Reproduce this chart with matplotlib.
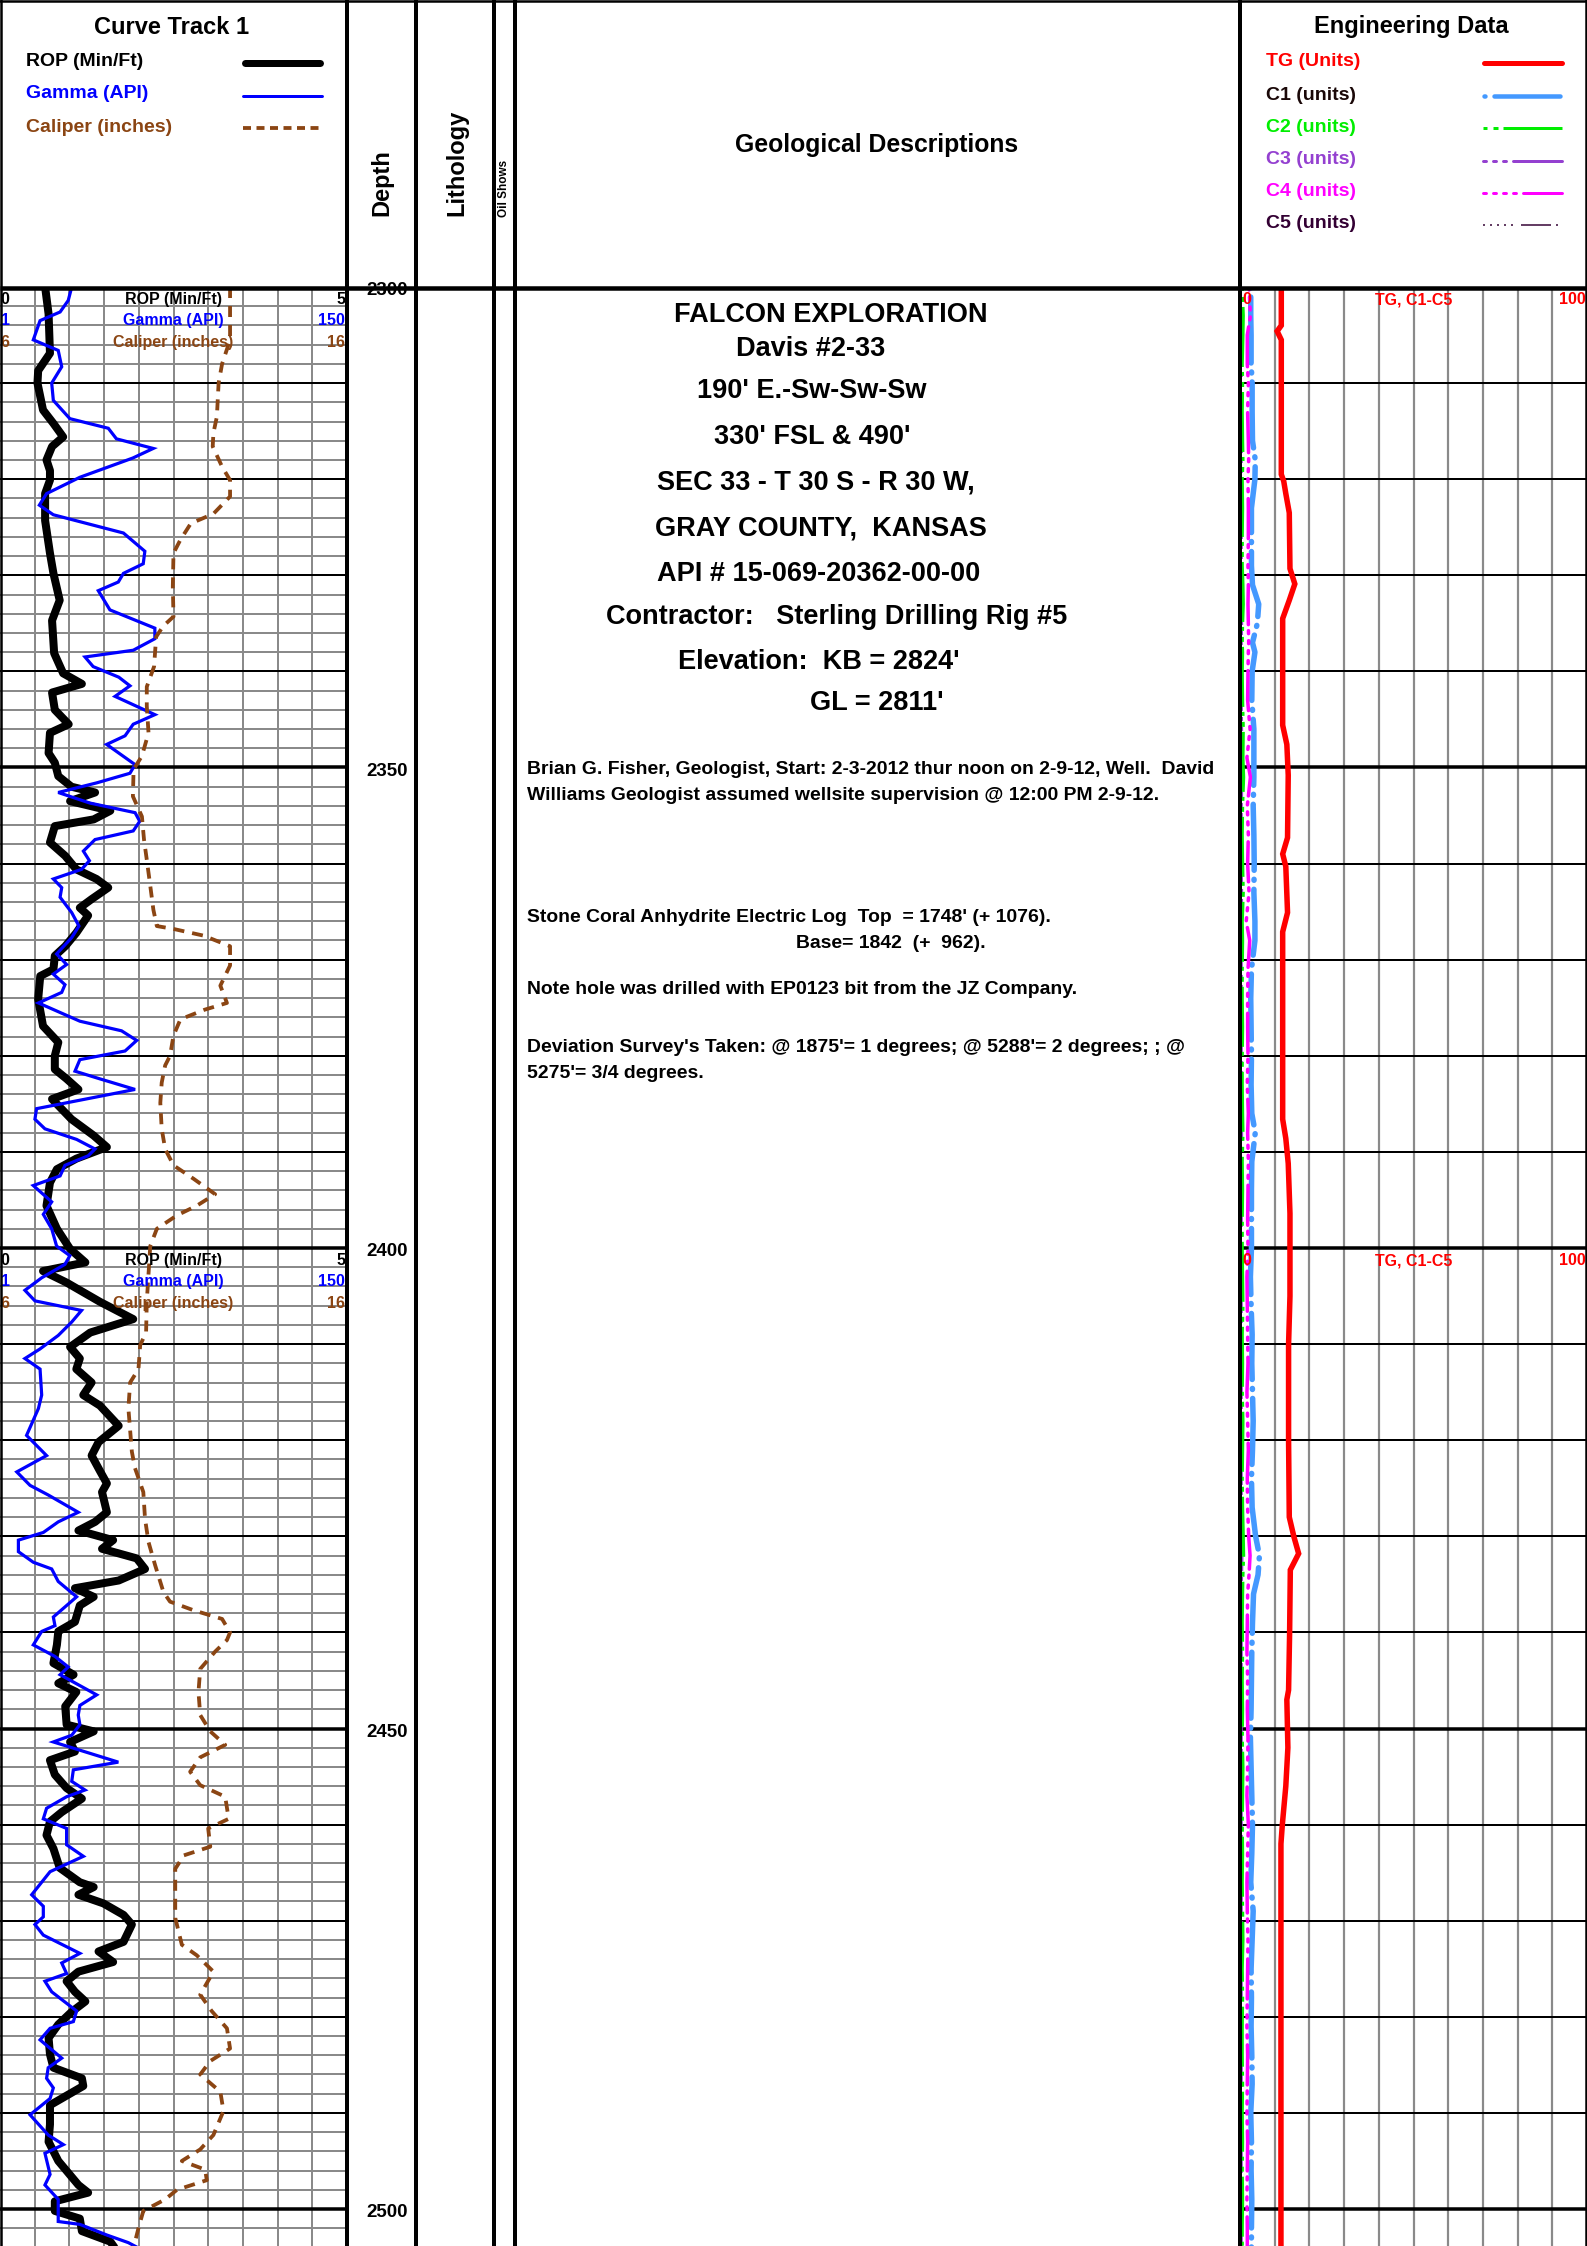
import numpy as np
import matplotlib
matplotlib.use("Agg")
import matplotlib.pyplot as plt
from matplotlib.transforms import blended_transform_factory

# ---------------------------------------------------------------- data
ROP_DEPTH = [2300, 2302.8, 2306.9, 2308.7, 2310, 2312.8, 2314.2, 2315.6, 2316.6, 2318.0,
             2319.1, 2320.1, 2321.5, 2324.3, 2327.7, 2329.8, 2332.6, 2334.7, 2338.1, 2340.2,
             2341.3, 2342.2, 2344, 2345.5, 2346.4, 2348.5, 2349.5, 2350.9, 2352, 2352.6,
             2353.5, 2354.5, 2355.4, 2356.1, 2357.8, 2359.2, 2360.6, 2361.6, 2362.5, 2363.7,
             2364.6, 2365.4, 2367.2, 2368.6, 2369.6, 2371, 2371.7, 2374.1, 2376.9, 2378.6,
             2380, 2381.4, 2382.4, 2383.5, 2384.5, 2386.6, 2388.3, 2389.5, 2390.7, 2391.8,
             2393.2, 2395.6, 2398, 2400.1, 2401.5, 2402.4, 2403.6, 2405.6, 2407.4, 2408.8,
             2410.3, 2411.5, 2412.6, 2414, 2415.3, 2416.4, 2418.5, 2420.2, 2421.6, 2423.2,
             2424.5, 2425.4, 2427.5, 2428.5, 2429.4, 2430.4, 2431.3, 2432.3, 2433.4, 2434.6,
             2435.4, 2436.3, 2437.2, 2438.9, 2439.9, 2441.3, 2443.2, 2444.4, 2445.3, 2446.2,
             2447.7, 2449.6, 2450.3, 2451.4, 2452.4, 2453.3, 2454.8, 2456.2, 2457.3, 2458.7,
             2459.7, 2461.1, 2462.5, 2464.5, 2466, 2466.5, 2467.3, 2468.2, 2469.4, 2470.4,
             2472.2, 2473.2, 2474.3, 2475.3, 2476.3, 2477.4, 2478.4, 2479.5, 2480.8, 2482.2,
             2483.9, 2485.3, 2486.4, 2487.2, 2489.2, 2491.2, 2493, 2495, 2497.5, 2498.3,
             2499.2, 2500.2, 2501, 2502.3, 2503.4, 2504]
ROP = [0.65, 0.70, 0.72, 0.55, 0.54, 0.62, 0.77, 0.91, 0.75, 0.67,
       0.72, 0.72, 0.65, 0.65, 0.72, 0.77, 0.86, 0.75, 0.78, 0.91,
       1.18, 0.75, 0.79, 0.99, 0.72, 0.70, 0.79, 0.84, 1.03, 1.37,
       1.01, 1.59, 1.35, 0.79, 0.72, 0.94, 1.10, 1.39, 1.56, 1.32,
       1.15, 1.27, 1.10, 0.94, 0.79, 0.77, 0.58, 0.55, 0.62, 0.84,
       0.79, 0.79, 0.96, 1.13, 0.75, 1.03, 1.35, 1.54, 1.10, 0.82,
       0.72, 0.67, 0.82, 1.01, 1.23, 0.62, 0.96, 1.44, 1.92, 1.30,
       1.01, 1.15, 1.10, 1.32, 1.20, 1.44, 1.71, 1.42, 1.32, 1.44,
       1.54, 1.47, 1.54, 1.37, 1.13, 1.63, 1.47, 1.97, 2.09, 1.71,
       1.08, 1.35, 1.15, 1.08, 0.84, 0.82, 0.77, 1.06, 0.84, 1.10,
       0.94, 0.96, 1.35, 1.01, 1.08, 0.72, 0.79, 0.96, 1.18, 0.89,
       0.72, 0.67, 0.77, 0.86, 1.15, 1.35, 1.13, 1.49, 1.78, 1.90,
       1.78, 1.42, 1.63, 1.13, 0.96, 1.08, 1.23, 1.03, 0.84, 0.70,
       0.72, 0.77, 1.18, 1.20, 0.72, 0.72, 0.70, 0.84, 1.13, 1.27,
       0.79, 0.79, 1.15, 1.18, 1.59, 1.65]

GR_DEPTH = [2300, 2301.4, 2302.6, 2303.5, 2305.5, 2306.6, 2308.3, 2310, 2311.8, 2313.7,
            2314.7, 2315.8, 2316.8, 2317.8, 2319.8, 2321.5, 2322.7, 2323.7, 2325.6, 2327.5,
            2328.8, 2329.8, 2330.7, 2331.6, 2333.6, 2335.5, 2336.6, 2337.8, 2338.5, 2339.5,
            2340.6, 2341.5, 2342.6, 2344.5, 2345.5, 2346.7, 2347.6, 2349.7, 2350.6, 2351.6,
            2352.6, 2353.7, 2354.7, 2355.6, 2356.6, 2357.5, 2358.7, 2359.7, 2360.6, 2361.6,
            2362.5, 2363.5, 2365.1, 2366.5, 2367.7, 2369.4, 2370.5, 2371.5, 2372.6, 2373.4,
            2374.5, 2376.4, 2377.4, 2378.4, 2379.5, 2380.4, 2381.6, 2382.4, 2383.5, 2385.5,
            2386.6, 2387.6, 2388.7, 2389.7, 2390.4, 2391.4, 2392.5, 2393.5, 2395.2, 2396.5,
            2398.0, 2399.8, 2400.8, 2401.7, 2403.1, 2404.4, 2405.5, 2406.5, 2407.7, 2409.1,
            2410.5, 2411.5, 2412.6, 2415.3, 2416.7, 2419.5, 2421.6, 2423.3, 2424.7, 2425.7,
            2427.5, 2428.5, 2429.6, 2430.4, 2431.6, 2432.7, 2433.4, 2434.7, 2436.3, 2437.2,
            2438.4, 2439.3, 2439.9, 2441.3, 2442.5, 2443.6, 2444.4, 2446.5, 2447.6, 2448.6,
            2449.6, 2450.7, 2451.4, 2453.5, 2454.3, 2455.5, 2456.4, 2457.1, 2458.3, 2459.4,
            2460.4, 2462.1, 2463.3, 2464.9, 2467.3, 2468.5, 2469.6, 2470.4, 2471.5, 2473.4,
            2474.4, 2475.5, 2476.3, 2477.4, 2479.4, 2480.5, 2481.2, 2482.4, 2484.3, 2485.3,
            2486.4, 2487.4, 2488.5, 2490.2, 2492.3, 2493.3, 2494.2, 2496.4, 2497.5, 2499.0,
            2501.3, 2501.6, 2502.7, 2503.5, 2504]
GAMMA = [31.8, 30.3, 26.8, 18.2, 15.3, 26.0, 27.5, 23.2, 23.9, 31.0,
         47.5, 51.0, 66.8, 58.0, 35.3, 21.0, 17.9, 23.9, 54.0, 63.2,
         62.5, 54.0, 51.8, 43.2, 48.2, 67.5, 67.5, 58.2, 37.5, 41.0,
         52.0, 56.8, 50.4, 67.5, 58.2, 54.7, 46.8, 59.0, 56.8, 42.5,
         26.0, 39.6, 59.0, 61.0, 58.2, 41.8, 36.8, 39.4, 36.0, 23.9,
         27.5, 26.8, 31.8, 34.9, 31.8, 25.3, 29.6, 23.9, 28.9, 27.5,
         17.5, 35.3, 53.2, 59.7, 54.7, 35.3, 33.2, 43.9, 59.0, 16.7,
         16.0, 20.3, 33.9, 41.8, 38.9, 28.9, 26.8, 15.3, 23.2, 19.6,
         23.2, 25.3, 31.0, 28.9, 18.9, 11.7, 16.0, 36.0, 31.8, 26.0,
         18.2, 11.7, 18.2, 18.9, 17.5, 12.4, 21.0, 8.2, 13.9, 21.7,
         34.6, 26.0, 19.6, 8.9, 8.9, 15.3, 23.2, 26.0, 33.9, 29.6,
         23.9, 24.6, 18.9, 15.3, 24.6, 30.3, 26.8, 42.5, 35.3, 34.6,
         35.3, 31.8, 23.9, 51.8, 32.5, 31.8, 37.5, 29.6, 21.0, 19.6,
         29.6, 29.6, 36.8, 22.5, 14.6, 19.6, 19.6, 16.0, 19.6, 35.3,
         27.5, 29.6, 20.3, 23.2, 33.9, 32.5, 22.5, 18.2, 27.5, 21.7,
         21.0, 23.9, 22.5, 13.9, 21.7, 28.2, 20.3, 22.5, 20.3, 26.0,
         26.0, 35.3, 46.8, 56.1, 60.0]

CAL_DEPTH = [2300, 2305.5, 2308, 2310, 2313.5, 2315.2, 2316.6, 2318.7, 2320.1, 2321.8,
             2323.6, 2324.6, 2326.3, 2327.7, 2331.2, 2334.3, 2335.3, 2336.4, 2339.5, 2341.6,
             2343.6, 2346.4, 2348.8, 2350.2, 2353, 2355.1, 2357.5, 2359.6, 2362.3, 2364.8,
             2366.5, 2366.8, 2367.5, 2368.6, 2370.6, 2372.7, 2374.5, 2375.2, 2376.2, 2377.9,
             2380, 2381, 2382.8, 2384.9, 2387.6, 2389.7, 2391.4, 2392.8, 2394.4, 2395.6,
             2396.6, 2398, 2399.8, 2405.6, 2408.8, 2410.1, 2412.6, 2414, 2416.7, 2421.2,
             2422.9, 2425.4, 2428.2, 2430.6, 2433, 2435.8, 2436.8, 2437.7, 2438.6, 2440,
             2440.8, 2442, 2443.8, 2446.2, 2448.6, 2450.3, 2451.7, 2453, 2454.5, 2455.9,
             2457.1, 2459.4, 2460.4, 2462.3, 2463.2, 2464.6, 2469.7, 2472.5, 2473.6, 2475.3,
             2477.7, 2479.4, 2481.2, 2483.3, 2484.6, 2486, 2487.8, 2489.8, 2492.3, 2493.8,
             2495, 2495.9, 2497, 2498, 2499, 2500.2, 2502, 2504]
CALIPER = [12.63, 12.63, 12.40, 12.30, 12.25, 12.15, 12.13, 12.40, 12.63, 12.63,
           12.15, 11.50, 11.20, 11.00, 10.98, 11.00, 10.70, 10.50, 10.44, 10.23,
           10.23, 10.28, 10.09, 9.85, 9.83, 10.09, 10.15, 10.23, 10.33, 10.42,
           10.52, 11.00, 11.87, 12.63, 12.63, 12.35, 12.54, 11.90, 11.20, 11.00,
           10.90, 10.76, 10.66, 10.62, 10.66, 10.76, 11.00, 11.58, 12.20, 11.67,
           11.10, 10.52, 10.33, 10.23, 10.21, 10.04, 9.99, 9.75, 9.70, 9.80,
           9.89, 10.13, 10.18, 10.28, 10.47, 10.71, 10.90, 11.58, 12.40, 12.63,
           12.54, 12.20, 11.77, 11.72, 11.77, 12.06, 12.49, 11.77, 11.48, 11.77,
           12.49, 12.59, 12.00, 12.06, 11.30, 11.05, 11.05, 11.24, 11.67, 12.15,
           11.77, 12.10, 12.54, 12.63, 12.06, 11.77, 12.35, 12.44, 12.15, 11.77,
           11.24, 11.91, 11.96, 11.10, 10.76, 10.13, 9.99, 9.85]

TG_DEPTH = [2300, 2304.0, 2304.6, 2305.5, 2319.5, 2320.2, 2321.5, 2323.5, 2329.3, 2330.9,
            2332.6, 2334.5, 2345.6, 2347.6, 2350.8, 2357.3, 2359.0, 2360.3, 2365.1, 2367.1,
            2386.6, 2388.6, 2391.2, 2396.4, 2405, 2410, 2420, 2428, 2430, 2431.8,
            2433.5, 2440, 2446, 2447, 2452, 2456, 2460, 2462, 2504]
TG = [11.9, 11.9, 10.7, 11.9, 11.9, 12.6, 13.2, 14.2, 14.4, 15.8,
      14.2, 12.3, 12.3, 13.5, 13.9, 13.7, 12.3, 13.2, 13.7, 12.3,
      12.3, 13.2, 13.9, 14.4, 14.4, 14.0, 14.0, 14.2, 15.5, 16.9,
      14.5, 14.3, 14.0, 13.5, 13.8, 13.2, 12.2, 11.8, 11.8]

GAS_DEPTH = [2300, 2303, 2305, 2308, 2310, 2313, 2316, 2318, 2320, 2323,
             2326, 2329, 2331, 2333, 2335, 2337, 2338, 2340, 2343, 2346,
             2349, 2351, 2354, 2357, 2360, 2363, 2366, 2368, 2371, 2374,
             2377, 2380, 2383, 2386, 2388, 2391, 2394, 2397, 2400, 2403,
             2406, 2409, 2412, 2415, 2418, 2421, 2424, 2427, 2430, 2432,
             2434, 2436, 2439, 2442, 2445, 2448, 2451, 2454, 2457, 2460,
             2463, 2466, 2469, 2472, 2475, 2478, 2481, 2484, 2487, 2490,
             2493, 2496, 2499, 2502, 2504]
C1 = [3.1, 3.1, 3.2, 3.2, 3.5, 3.5, 3.6, 4.4, 4.3, 3.3,
      3.3, 3.3, 3.6, 5.4, 5.0, 3.6, 4.3, 3.5, 3.4, 4.0,
      4.0, 4.0, 3.8, 4.0, 4.1, 4.0, 4.3, 4.3, 3.3, 3.1,
      3.2, 3.3, 3.2, 3.4, 4.4, 3.4, 3.3, 3.3, 3.3, 3.0,
      3.2, 3.5, 3.4, 3.6, 3.8, 3.6, 3.3, 3.5, 4.5, 5.6,
      5.2, 3.9, 3.6, 3.4, 3.3, 3.2, 3.0, 3.2, 3.4, 3.6,
      3.4, 3.1, 3.8, 3.5, 3.2, 3.3, 3.2, 3.4, 3.5, 3.1,
      3.3, 3.2, 3.4, 3.3, 3.3]
C2 = [0.6, 0.9, 0.8, 0.6, 0.7, 0.6, 0.7, 0.8, 0.6, 0.7,
      0.6, 0.6, 0.8, 0.9, 0.7, 0.6, 0.7, 0.6, 0.7, 0.9,
      0.8, 1.0, 0.7, 0.6, 0.7, 0.9, 0.6, 0.7, 0.6, 0.6,
      0.7, 0.6, 0.6, 0.7, 0.8, 0.6, 0.7, 0.6, 0.6, 0.7,
      0.8, 0.6, 0.7, 0.6, 0.8, 0.7, 0.6, 0.7, 0.9, 1.0,
      0.8, 0.7, 0.6, 0.7, 0.6, 0.7, 0.6, 0.8, 0.7, 0.6,
      0.7, 0.6, 0.7, 0.8, 0.6, 0.7, 0.6, 0.6, 0.7, 0.6,
      0.7, 0.6, 0.7, 0.6, 0.6]
C3 = [0.3, 0.4, 0.3, 0.3, 0.3, 0.3, 0.4, 0.3, 0.3, 0.3,
      0.3, 0.3, 0.4, 0.5, 0.4, 0.3, 0.3, 0.3, 0.3, 0.4,
      0.3, 0.5, 0.3, 0.3, 0.3, 0.4, 0.3, 0.3, 0.3, 0.3,
      0.3, 0.3, 0.3, 0.3, 0.4, 0.3, 0.3, 0.3, 0.3, 0.3,
      0.3, 0.3, 0.3, 0.3, 0.3, 0.3, 0.3, 0.3, 0.4, 0.5,
      0.4, 0.3, 0.3, 0.3, 0.3, 0.3, 0.3, 0.3, 0.3, 0.3,
      0.3, 0.3, 0.3, 0.3, 0.3, 0.3, 0.3, 0.3, 0.3, 0.3,
      0.3, 0.3, 0.3, 0.3, 0.3]
C4 = [2.6, 3.0, 2.1, 2.1, 2.4, 2.2, 2.4, 2.5, 2.3, 2.4,
      2.4, 2.3, 2.4, 2.3, 2.4, 2.5, 2.4, 2.3, 2.2, 2.9,
      2.0, 3.0, 2.1, 2.4, 2.2, 2.6, 1.8, 2.8, 2.3, 2.2,
      2.2, 2.3, 2.1, 2.4, 2.2, 2.4, 2.3, 2.2, 2.3, 2.0,
      2.1, 2.2, 2.3, 2.0, 2.2, 2.4, 2.1, 2.2, 2.5, 2.9,
      2.6, 2.2, 2.1, 2.0, 2.2, 2.1, 2.3, 2.2, 2.0, 2.4,
      2.2, 2.0, 2.1, 2.3, 2.2, 2.1, 2.0, 2.2, 2.1, 2.0,
      2.2, 2.1, 2.0, 2.1, 2.1]
C5_DEPTH = [2300, 2340, 2380, 2420, 2460, 2504]
C5 = [0.10, 0.15, 0.10, 0.10, 0.15, 0.10]

DEPTH_LABELS = [2300, 2350, 2400, 2450, 2500]
SCALE_DEPTHS = [2300, 2400]

CURVE_SCALES = [("0", "ROP (Min/Ft)", "5"),
                ("1", "Gamma (API)", "150"),
                ("6", "Caliper (inches)", "16")]
GAS_SCALE = ("0", "TG, C1-C5", "100")

CURVE_NAMES = ["ROP (Min/Ft)", "Gamma (API)", "Caliper (inches)"]
GAS_NAMES = ["TG (Units)", "C1 (units)", "C2 (units)", "C3 (units)",
             "C4 (units)", "C5 (units)"]

HEADING_LINES = ["FALCON EXPLORATION", "Davis #2-33", "190' E.-Sw-Sw-Sw",
                 "330' FSL & 490'", "SEC 33 - T 30 S - R 30 W,",
                 "GRAY COUNTY,  KANSAS", "API # 15-069-20362-00-00",
                 "Contractor:   Sterling Drilling Rig #5",
                 "Elevation:  KB = 2824'", "GL = 2811'"]
NOTE_LINES = ["Brian G. Fisher, Geologist, Start: 2-3-2012 thur noon on 2-9-12, Well.  David",
              "Williams Geologist assumed wellsite supervision @ 12:00 PM 2-9-12.",
              "Stone Coral Anhydrite Electric Log  Top  = 1748' (+ 1076).",
              "Base= 1842  (+  962).",
              "Note hole was drilled with EP0123 bit from the JZ Company.",
              "Deviation Survey's Taken: @ 1875'= 1 degrees; @ 5288'= 2 degrees; ; @",
              "5275'= 3/4 degrees."]

# ---------------------------------------------------------------- layout
W, H = 1587, 2246
DPI = 100
PX = DPI / 72.0                # pixels per point
HEADER_PX = 287
FT_PX = 9.61
TOP_DEPTH = 2300
BOT_DEPTH = TOP_DEPTH + (H - HEADER_PX) / FT_PX

X_CURVE = (0, 347)
X_DEPTH = (347, 416)
X_LITH = (416, 494)
X_SHOW = (494, 515)
X_DESC = (515, 1240)
X_ENG = (1240, 1587)

BLACK = "#000000"
GREY = "#8a8a8a"
BLUE = "#0000ff"
BROWN = "#8b4513"
RED = "#ff0000"
C1_COL = "#4499ff"
C2_COL = "#00ee00"
C3_COL = "#9440d0"
C4_COL = "#ff00ff"
C5_COL = "#330033"

plt.rcParams["font.family"] = ["Liberation Sans", "DejaVu Sans"]
plt.rcParams["font.weight"] = "bold"

fig = plt.figure(figsize=(W / DPI, H / DPI), dpi=DPI)
fig.patch.set_facecolor("white")


def lw_px(p):
    return p / PX


def track(xr, xlim):
    ax = fig.add_axes([xr[0] / W, 0, (xr[1] - xr[0]) / W, (H - HEADER_PX) / H])
    ax.set_xlim(*xlim)
    ax.set_ylim(BOT_DEPTH, TOP_DEPTH)
    ax.axis("off")
    return ax


def dash(lw_pt, *pix):
    return [p / PX / lw_pt for p in pix]


# ---------------------------------------------------------------- curve track
ax_rop = track(X_CURVE, (0, 5))
ax_gr = track(X_CURVE, (1, 150))
ax_cal = track(X_CURVE, (6, 16))

feet = np.arange(TOP_DEPTH + 2, BOT_DEPTH, 2)
minor = [d for d in feet if d % 10 != 0]
tens = [d for d in feet if d % 10 == 0 and d % 50 != 0]
fifties = [d for d in feet if d % 50 == 0]
ax_rop.vlines(np.arange(0.5, 5, 0.5), TOP_DEPTH, BOT_DEPTH, color=GREY, lw=lw_px(2.0), zorder=1)
ax_rop.hlines(minor, 0, 5, color=GREY, lw=lw_px(2.0), zorder=1)
ax_rop.hlines(tens, 0, 5, color=BLACK, lw=lw_px(2.0), zorder=2)
ax_rop.hlines(fifties, 0, 5, color=BLACK, lw=lw_px(3.5), zorder=2)

ax_rop.plot(ROP, ROP_DEPTH, color=BLACK, lw=lw_px(8.0), solid_joinstyle="round",
            solid_capstyle="round", zorder=3)
ax_gr.plot(GAMMA, GR_DEPTH, color=BLUE, lw=lw_px(3.2), solid_joinstyle="miter", zorder=4)
cal_lw = lw_px(3.8)
ax_cal.plot(CALIPER, CAL_DEPTH, color=BROWN, lw=cal_lw, dashes=dash(cal_lw, 11, 8),
            dash_capstyle="butt", zorder=5)

scale_colors = [BLACK, BLUE, BROWN]
row_offsets = [1.35, 3.45, 5.75]
tr = blended_transform_factory(ax_cal.transAxes, ax_cal.transData)
for top in SCALE_DEPTHS:
    for (lo, name, hi), col, off in zip(CURVE_SCALES, scale_colors, row_offsets):
        y = top + off
        kw = dict(transform=tr, color=col, fontsize=11.5, va="center", zorder=8)
        ax_cal.text(0.002, y, lo, ha="left", **kw)
        ax_cal.text(0.5, y, name, ha="center", **kw)
        ax_cal.text(0.995, y, hi, ha="right", **kw)

# ---------------------------------------------------------------- depth track
ax_depth = track(X_DEPTH, (0, 1))
for d in DEPTH_LABELS:
    ax_depth.text(0.58, d + 0.4, str(d), ha="center", va="center", fontsize=13.5,
                  color=BLACK)

# ---------------------------------------------------------------- engineering track
ax_eng = track(X_ENG, (0, 100))
ax_eng.vlines(np.arange(10, 100, 10), TOP_DEPTH, BOT_DEPTH, color=GREY, lw=lw_px(2.2), zorder=1)
ax_eng.hlines(tens, 0, 100, color=BLACK, lw=lw_px(2.0), zorder=2)
ax_eng.hlines(fifties, 0, 100, color=BLACK, lw=lw_px(3.5), zorder=2)

c5_lw = lw_px(1.5)
ax_eng.plot(C5, C5_DEPTH, color=C5_COL, lw=c5_lw, zorder=3,
            dashes=dash(c5_lw, 2, 5, 2, 5, 2, 5, 2, 5, 2, 8, 30, 5))
c3_lw = lw_px(3.5)
ax_eng.plot(C3, GAS_DEPTH, color=C3_COL, lw=c3_lw, zorder=3,
            dashes=dash(c3_lw, 4, 6, 4, 6, 4, 6, 50, 6))
c2_lw = lw_px(3.5)
ax_eng.plot(C2, GAS_DEPTH, color=C2_COL, lw=c2_lw, zorder=4,
            dashes=dash(c2_lw, 4, 6, 5, 5, 60, 5))
c1_lw = lw_px(5.5)
ax_eng.plot(C1, GAS_DEPTH, color=C1_COL, lw=c1_lw, zorder=4, dash_capstyle="round",
            dashes=dash(c1_lw, 1, 9, 66, 9))
c4_lw = lw_px(3.5)
ax_eng.plot(C4, GAS_DEPTH, color=C4_COL, lw=c4_lw, zorder=5, dash_capstyle="round",
            dashes=dash(c4_lw, 3, 7, 3, 7, 3, 7, 3, 7, 40, 6))
ax_eng.plot(TG, TG_DEPTH, color=RED, lw=lw_px(5.5), zorder=6, solid_joinstyle="miter")

tr_e = blended_transform_factory(ax_eng.transAxes, ax_eng.transData)
for top in SCALE_DEPTHS:
    y = top + row_offsets[0]
    kw = dict(transform=tr_e, color=RED, fontsize=11.5, va="center", zorder=8)
    ax_eng.text(0.006, y, GAS_SCALE[0], ha="left", **kw)
    ax_eng.text(0.50, y, GAS_SCALE[1], ha="center", **kw)
    ax_eng.text(0.995, y, GAS_SCALE[2], ha="right", **kw)

# ---------------------------------------------------------------- overlay: header, borders, notes
ov = fig.add_axes([0, 0, 1, 1], zorder=20)
ov.set_xlim(0, W)
ov.set_ylim(H, 0)
ov.axis("off")

# borders and column separators
sep = lw_px(4.0)
for x in (X_CURVE[1], X_DEPTH[1], X_LITH[1], X_SHOW[1], X_DESC[1]):
    ov.plot([x, x], [0, H], color=BLACK, lw=sep, solid_capstyle="butt")
ov.plot([0, W], [HEADER_PX + 1, HEADER_PX + 1], color=BLACK, lw=lw_px(4.5), solid_capstyle="butt")
ov.plot([1, 1], [0, H], color=BLACK, lw=lw_px(2.5))
ov.plot([0, W], [1, 1], color=BLACK, lw=lw_px(2.5))
ov.plot([W - 1.5, W - 1.5], [0, H], color=BLACK, lw=lw_px(2.5))

# header titles
ov.text(172, 27, "Curve Track 1", ha="center", va="center", fontsize=17)
ov.text(1411, 27, "Engineering Data", ha="center", va="center", fontsize=17)
ov.text(877, 145, "Geological Descriptions", ha="center", va="center", fontsize=17.8)
ov.text(382, 216, "Depth", rotation=90, ha="center", va="bottom", fontsize=17)
ov.text(457, 216, "Lithology", rotation=90, ha="center", va="bottom", fontsize=17)
ov.text(504, 217, "Oil Shows", rotation=90, ha="center", va="bottom", fontsize=8.5)

# curve legend
for name, col, y in zip(CURVE_NAMES, scale_colors, (61, 94, 127)):
    ov.text(26, y, name, ha="left", va="center", fontsize=14, color=col)
ov.plot([245, 320], [63, 63], color=BLACK, lw=lw_px(7), solid_capstyle="round")
ov.plot([243, 322], [96, 96], color=BLUE, lw=lw_px(3.0), solid_capstyle="round")
ov.plot([243, 321], [128, 128], color=BROWN, lw=cal_lw, dashes=dash(cal_lw, 8, 5.5),
        dash_capstyle="butt")

# gas legend
gas_text_cols = [RED, "#1a0808", C2_COL, C3_COL, C4_COL, C5_COL]
for name, col, y in zip(GAS_NAMES, gas_text_cols, (62, 95, 127, 160, 192, 224)):
    ov.text(1266, y, name, ha="left", va="center", fontsize=14, color=col)
leg_c1 = lw_px(4.5)
leg_c = lw_px(3.0)
ov.plot([1484, 1562], [63, 63], color=RED, lw=lw_px(5.0), solid_capstyle="round")
ov.plot([1484, 1562], [96, 96], color=C1_COL, lw=leg_c1, dash_capstyle="round",
        dashes=dash(leg_c1, 1, 9, 66, 9))
ov.plot([1483, 1562], [128, 128], color=C2_COL, lw=leg_c, dashes=dash(leg_c, 4, 6, 5, 5, 60, 5))
ov.plot([1483, 1562], [161, 161], color=C3_COL, lw=leg_c, dash_capstyle="round",
        dashes=dash(leg_c, 3, 7, 3, 7, 3, 7, 50, 6))
ov.plot([1483, 1562], [193, 193], color=C4_COL, lw=leg_c, dash_capstyle="round",
        dashes=dash(leg_c, 3, 7, 3, 7, 3, 7, 3, 7, 40, 6))
ov.plot([1483, 1562], [225, 225], color=C5_COL, lw=c5_lw,
        dashes=dash(c5_lw, 2, 5, 2, 5, 2, 5, 2, 5, 2, 8, 30, 5))

# well heading
head_x = [831, 811, 812, 812, 816, 821, 818.5, 836.5, 819, 877]
head_y = [315, 349, 391, 437, 483, 528, 574, 617, 662, 703]
for s, x, y in zip(HEADING_LINES, head_x, head_y):
    ov.text(x, y, s, ha="center", va="center", fontsize=19.5)

note_x = [527, 527, 527, 796, 527, 527, 527]
note_y = [769, 795, 917, 944, 990, 1047, 1073]
for s, x, y in zip(NOTE_LINES, note_x, note_y):
    ov.text(x, y, s, ha="left", va="center", fontsize=13.95)

fig.savefig("out.png", dpi=DPI, facecolor="white")
